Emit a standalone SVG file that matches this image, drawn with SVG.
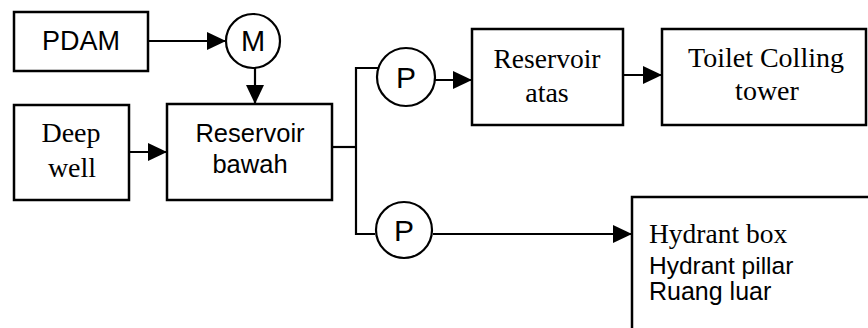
<svg xmlns="http://www.w3.org/2000/svg" width="868" height="328" viewBox="0 0 868 328">
<style>
.box{fill:#fff;stroke:#000;stroke-width:2.5}
.circ{fill:#fff;stroke:#000;stroke-width:2.2}
.ln{fill:none;stroke:#000;stroke-width:2.2}
.sans{font-family:"Liberation Sans",Arial,sans-serif;fill:#000}
.serif{font-family:"Liberation Serif","Times New Roman",serif;fill:#000}
</style>
<defs>
<marker id="ah" markerWidth="20" markerHeight="20" refX="19" refY="10" orient="auto" markerUnits="userSpaceOnUse">
<path d="M0,1 L19,10 L0,19 Z" fill="#000"/>
</marker>
</defs>
<rect width="868" height="328" fill="#fff"/>
<g id="connectors">
<line class="ln" x1="148" y1="41" x2="226" y2="41" marker-end="url(#ah)"/>
<line class="ln" x1="255" y1="68" x2="255" y2="104" marker-end="url(#ah)"/>
<line class="ln" x1="129" y1="152" x2="167" y2="152" marker-end="url(#ah)"/>
<polyline class="ln" points="332,147 356,147"/>
<polyline class="ln" points="382,68 356,68 356,234 375,234"/>
<line class="ln" x1="435" y1="80" x2="472" y2="80" marker-end="url(#ah)"/>
<line class="ln" x1="623" y1="75" x2="662" y2="75" marker-end="url(#ah)"/>
<line class="ln" x1="433" y1="234" x2="632" y2="234" marker-end="url(#ah)"/>
</g>
<g id="pdam">
<rect class="box" x="14" y="12" width="134" height="59"/>
<text class="sans" x="81" y="50" font-size="27" text-anchor="middle">PDAM</text>
</g>
<g id="m">
<circle class="circ" cx="253" cy="41" r="27"/>
<text class="sans" x="253" y="51" font-size="29" text-anchor="middle">M</text>
</g>
<g id="deepwell">
<rect class="box" x="14" y="105" width="115" height="95"/>
<text class="serif" x="71" y="142" font-size="28" text-anchor="middle">Deep</text>
<text class="serif" x="72" y="177" font-size="28" text-anchor="middle">well</text>
</g>
<g id="reservoir-bawah">
<rect class="box" x="167" y="104" width="165" height="96"/>
<text class="sans" x="250" y="142" font-size="25.5" text-anchor="middle">Reservoir</text>
<text class="sans" x="250" y="173" font-size="25.5" text-anchor="middle">bawah</text>
</g>
<g id="p1">
<circle class="circ" cx="406" cy="77" r="29"/>
<text class="sans" x="406" y="88" font-size="30" text-anchor="middle">P</text>
</g>
<g id="reservoir-atas">
<rect class="box" x="472" y="29" width="151" height="96"/>
<text class="serif" x="547" y="68" font-size="27.5" text-anchor="middle">Reservoir</text>
<text class="serif" x="547" y="102" font-size="28" text-anchor="middle">atas</text>
</g>
<g id="toilet">
<rect class="box" x="662" y="29" width="204" height="96"/>
<text class="serif" x="766" y="67" font-size="28" text-anchor="middle">Toilet Colling</text>
<text class="serif" x="767" y="100" font-size="28" text-anchor="middle">tower</text>
</g>
<g id="p2">
<circle class="circ" cx="404" cy="230" r="28"/>
<text class="sans" x="404" y="241" font-size="30" text-anchor="middle">P</text>
</g>
<g id="hydrant">
<rect class="box" x="632" y="197" width="260" height="160"/>
<text class="serif" x="649" y="243" font-size="27.5">Hydrant box</text>
<text class="sans" x="649" y="274" font-size="24.5">Hydrant pillar</text>
<text class="sans" x="649" y="300" font-size="25">Ruang luar</text>
</g>
</svg>
